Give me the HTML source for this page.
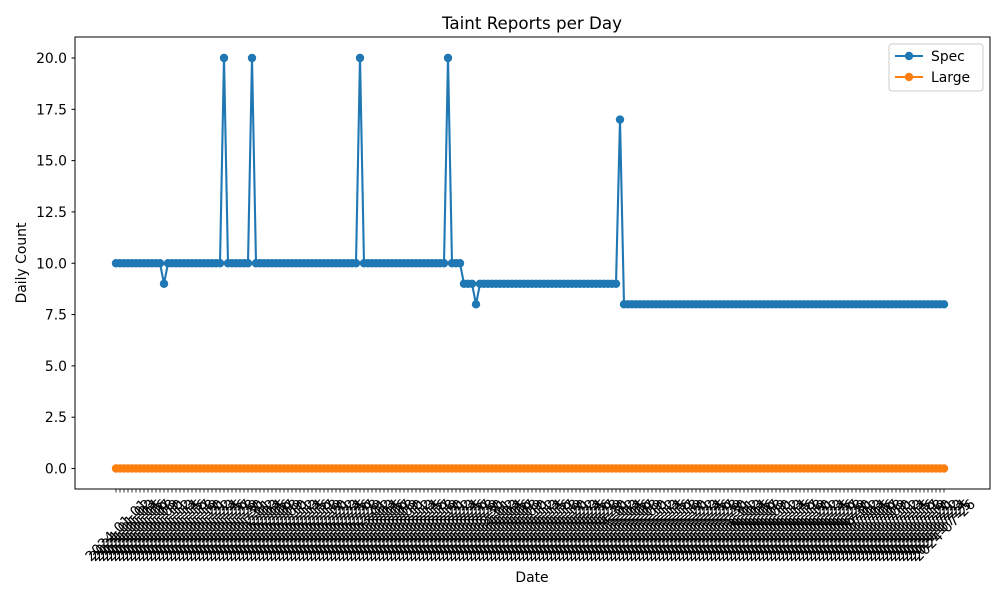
<!DOCTYPE html>
<html><head><meta charset="utf-8"><style>
html,body{margin:0;padding:0;background:#fff;}
svg{display:block;font-family:"DejaVu Sans","Liberation Sans",sans-serif;}
</style></head><body>
<svg id="chart" width="1000" height="600" viewBox="0 0 1000 600">
<rect width="1000" height="600" fill="#fff"/>
<text x="532" y="29" font-size="16.7" text-anchor="middle">Taint Reports per Day</text>
<g id="xlabels"></g>
<g id="yaxis"></g>
<g id="series"></g>
<rect x="75" y="37" width="915" height="452" fill="none" stroke="#000" stroke-width="1"/>
<text x="532" y="582" font-size="13.9" text-anchor="middle">Date</text>
<text transform="translate(26,263) rotate(-90)" font-size="13.9" text-anchor="middle">Daily Count</text>
<g>
<rect x="889" y="44" width="94" height="47" rx="3" fill="#fff" stroke="#ccc"/>
<g>
<line x1="895" y1="56" x2="923" y2="56" stroke="#1f77b4" stroke-width="2"/><circle cx="909" cy="56" r="4.2" fill="#1f77b4"/>
<text x="931" y="61" font-size="13.9">Spec</text></g>
<g>
<line x1="895" y1="77" x2="923" y2="77" stroke="#ff7f0e" stroke-width="2"/><circle cx="909" cy="77" r="4.2" fill="#ff7f0e"/>
<text x="931" y="82" font-size="13.9">Large</text></g>
</g>
</svg>
<script>
const yTicks = [0, 2.5, 5, 7.5, 10, 12.5, 15, 17.5, 20];
const yTickLabels = ["0.0","2.5","5.0","7.5","10.0","12.5","15.0","17.5","20.0"];
const N = 208;
const specSpikes = [[12,9],[27,20],[34,20],[61,20],[83,20],[90,8],[126,17]];
const specBase = [[0,10],[87,9],[127,8]];
const largeValue = 0;
const startDate = "2024-01-01";

const spec = [];
for (let i = 0; i < N; i++) {
  let v = 0;
  for (const [s, b] of specBase) if (i >= s) v = b;
  spec.push(v);
}
for (const [i, v] of specSpikes) spec[i] = v;
const large = new Array(N).fill(largeValue);
const dates = [];
{ const d0 = new Date(startDate + "T00:00:00Z");
  for (let i = 0; i < N; i++) { const d = new Date(d0.getTime() + i*86400000); dates.push(d.toISOString().slice(0,10)); } }

const NS = "http://www.w3.org/2000/svg";
const xs = i => 116 + i * (828 / (N - 1));
const ys = v => 468.5 - v * 20.525;
function mk(tag, attrs, parent) { const e = document.createElementNS(NS, tag); for (const k in attrs) e.setAttribute(k, attrs[k]); parent.appendChild(e); return e; }

const ya = document.getElementById('yaxis');
yTicks.forEach((t, k) => {
  const l = mk('line', {x1: 71.5, x2: 75, y1: ys(t), y2: ys(t), stroke: '#000'}, ya);
  
  
  const tx = mk('text', {x: 67, y: ys(t) + 5, 'font-size': 13.9, 'text-anchor': 'end'}, ya);
  tx.textContent = yTickLabels[k];
  
  
});

const xl = document.getElementById('xlabels');
dates.forEach((d, i) => {
  const x = xs(i);
  const l = mk('line', {x1: x, x2: x, y1: 489, y2: 492.5, stroke: '#000', 'stroke-width': 0.8}, xl);
  
  
  const t = mk('text', {x: 0, y: 5, 'font-size': 13.9, 'text-anchor': 'middle', transform: `translate(${x},530) rotate(-45)`}, xl);
  t.textContent = d;
  
  
});

const sg = document.getElementById('series');
function drawSeries(vals, color, name) {
  const g = mk('g', {}, sg);
  
  
  const p = mk('polyline', {points: vals.map((v, i) => xs(i) + ',' + ys(v)).join(' '), fill: 'none', stroke: color, 'stroke-width': 2.1, 'stroke-linejoin': 'round'}, g);
  
  
  vals.forEach((v, i) => {
    const c = mk('circle', {cx: xs(i), cy: ys(v), r: 4.2, fill: color}, g);
    
    
  });
}
drawSeries(spec, '#1f77b4', 'spec-series');
drawSeries(large, '#ff7f0e', 'large-series');
</script>
</body></html>
